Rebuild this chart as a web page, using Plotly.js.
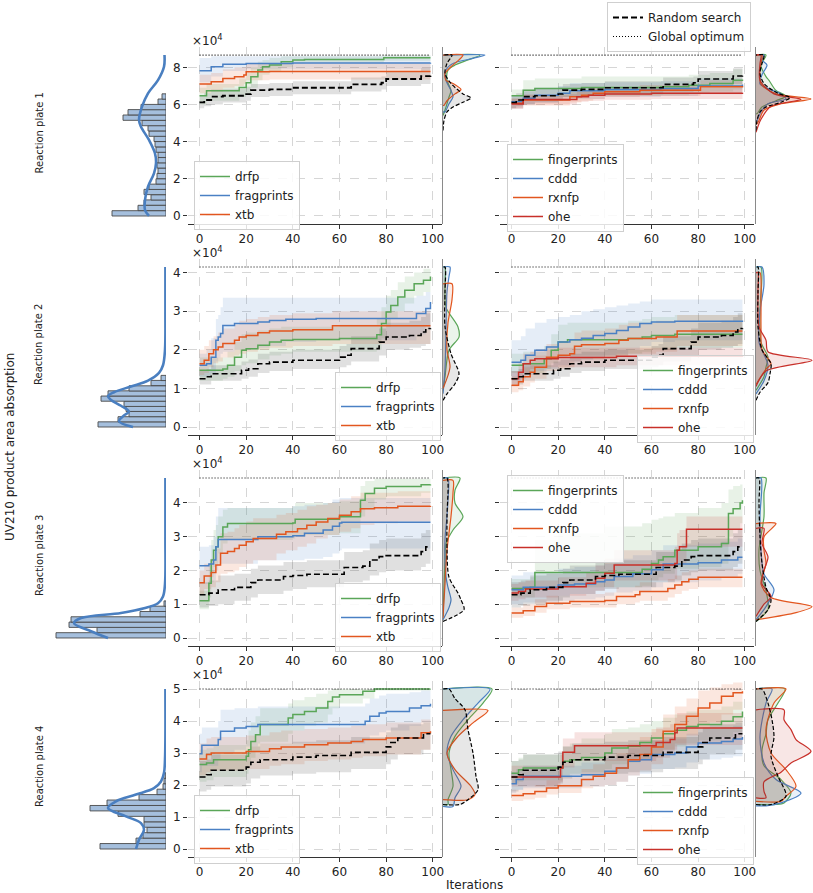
<!DOCTYPE html>
<html><head><meta charset="utf-8">
<script src="https://cdn.plot.ly/plotly-3.0.1.min.js"></script>
<style>body{margin:0;background:#fff}#chart{width:813px;height:893px}</style>
</head><body><div id="chart"></div>
<script>
// ---------------- DATA (values in units of 1e4) ----------------
const xTicks = [0, 20, 40, 60, 80, 100];
const yTicks = [[0, 2, 4, 6, 8], [0, 1, 2, 3, 4], [0, 1, 2, 3, 4], [0, 1, 2, 3, 4, 5]];
const plateLabels = ['Reaction plate 1', 'Reaction plate 2', 'Reaction plate 3', 'Reaction plate 4'];
const methodsLeft = ['drfp', 'fragprints', 'xtb'];
const methodsRight = ['fingerprints', 'cddd', 'rxnfp', 'ohe'];
const globalOpt = [8.66, 4.145, 4.74, 5.0];

// rows: [iteration, mean, lower, upper]
const p1_drfp = [[0,6.47,6.0,6.9],[3,6.74,6.2,7.1],[17,6.92,6.4,7.4],[20,7.17,6.6,7.7],[22,7.49,6.9,8.0],[25,7.85,7.3,8.3],[27,8.03,7.6,8.4],[30,8.12,7.8,8.5],[35,8.30,8.0,8.6],[40,8.39,8.2,8.6],[45,8.42,8.25,8.6],[79,8.51,8.35,8.66],[99,8.51,8.35,8.66]];
const p1_fragprints = [[0,7.81,7.2,8.5],[5,8.03,7.5,8.6],[10,8.17,7.8,8.6],[20,8.20,7.9,8.6],[40,8.23,7.9,8.6],[99,8.24,7.9,8.6]];
const p1_xtb = [[0,7.10,6.6,7.6],[5,7.22,6.7,7.7],[10,7.40,6.9,7.9],[15,7.49,7.0,8.0],[19,7.58,7.1,8.0],[20,7.76,7.3,8.2],[30,7.78,7.35,8.2],[99,7.78,7.3,8.2]];
const p1_random = [[0,6.11,5.8,6.5],[2,6.24,5.9,6.6],[5,6.42,6.0,6.8],[10,6.47,6.1,6.85],[20,6.56,6.2,6.95],[22,6.77,6.4,7.1],[30,6.81,6.45,7.15],[40,6.90,6.55,7.25],[65,7.08,6.7,7.45],[78,7.17,6.8,7.5],[80,7.37,7.0,7.8],[95,7.53,7.1,7.95],[99,7.55,7.1,8.0]];
const p1_fingerprints = [[0,6.47,6.1,6.8],[5,6.77,6.3,7.3],[10,6.86,6.4,7.4],[30,6.92,6.45,7.5],[64,6.95,6.5,7.5],[76,7.04,6.6,7.6],[85,7.13,6.7,7.7],[95,7.31,6.8,7.9],[99,7.35,6.85,8.0]];
const p1_cddd = [[0,6.15,5.8,6.5],[5,6.33,6.0,6.7],[10,6.50,6.1,6.9],[20,6.60,6.2,7.0],[25,6.74,6.3,7.15],[40,6.81,6.4,7.2],[64,6.86,6.45,7.25],[80,6.99,6.55,7.4],[99,7.08,6.6,7.5]];
const p1_rxnfp = [[0,6.06,5.8,6.35],[5,6.24,5.95,6.5],[25,6.42,6.1,6.7],[30,6.50,6.2,6.8],[35,6.60,6.3,6.9],[40,6.68,6.4,6.95],[55,6.77,6.45,7.05],[81,6.95,6.6,7.3],[99,6.99,6.65,7.35]];
const p1_ohe = [[0,6.02,5.75,6.3],[5,6.27,6.0,6.55],[28,6.42,6.15,6.7],[33,6.50,6.2,6.8],[40,6.56,6.25,6.85],[60,6.60,6.3,6.9],[99,6.63,6.3,6.95]];

const p2_drfp = [[0,1.47,1.2,1.8],[10,1.50,1.25,1.8],[12,1.60,1.3,1.95],[15,1.81,1.45,2.2],[18,1.99,1.6,2.4],[20,2.03,1.65,2.45],[25,2.12,1.75,2.5],[30,2.20,1.85,2.55],[35,2.25,1.9,2.6],[40,2.27,1.95,2.6],[60,2.29,1.95,2.65],[76,2.39,2.0,2.8],[78,2.68,2.3,3.1],[80,2.98,2.6,3.4],[82,3.15,2.8,3.55],[85,3.37,3.0,3.75],[88,3.54,3.2,3.9],[92,3.71,3.4,4.0],[96,3.80,3.5,4.1],[99,3.90,3.6,4.1]];
const p2_fragprints = [[0,1.60,1.3,1.9],[3,1.64,1.3,2.0],[5,1.81,1.4,2.3],[7,2.25,1.7,2.8],[8,2.33,1.8,2.9],[9,2.42,1.9,3.1],[10,2.63,1.95,3.35],[15,2.68,2.0,3.35],[25,2.72,2.05,3.35],[30,2.76,2.1,3.35],[37,2.79,2.2,3.35],[50,2.81,2.25,3.35],[93,2.94,2.4,3.4],[97,3.07,2.6,3.5],[99,3.24,2.8,3.6]];
const p2_xtb = [[0,1.64,1.35,2.0],[2,1.73,1.4,2.1],[4,1.90,1.55,2.25],[6,2.00,1.65,2.35],[8,2.07,1.7,2.45],[10,2.16,1.8,2.55],[15,2.25,1.85,2.65],[17,2.33,1.9,2.75],[20,2.37,1.95,2.8],[25,2.44,2.0,2.85],[30,2.49,2.05,2.9],[40,2.52,2.1,2.95],[57,2.62,2.15,3.0],[99,2.62,2.15,3.0]];
const p2_random = [[0,1.25,1.1,1.45],[3,1.30,1.1,1.5],[5,1.38,1.2,1.6],[18,1.47,1.25,1.7],[21,1.51,1.3,1.75],[25,1.64,1.4,1.9],[30,1.68,1.45,1.95],[40,1.73,1.5,2.0],[60,1.81,1.55,2.1],[63,1.86,1.6,2.15],[65,2.03,1.7,2.35],[77,2.20,1.85,2.55],[80,2.33,2.0,2.7],[90,2.37,2.05,2.75],[95,2.46,2.1,2.85],[97,2.55,2.15,2.95],[99,2.56,2.15,3.0]];
const p2_fingerprints = [[0,1.60,1.4,1.9],[5,1.64,1.4,1.95],[14,1.77,1.5,2.1],[17,1.99,1.65,2.4],[20,2.20,1.8,2.65],[24,2.26,1.85,2.7],[50,2.29,1.9,2.75],[56,2.33,1.95,2.8],[60,2.37,2.0,2.85],[70,2.40,2.05,2.9],[99,2.40,2.05,2.9]];
const p2_cddd = [[0,1.68,1.2,2.25],[4,1.73,1.25,2.35],[6,1.86,1.35,2.55],[10,1.99,1.45,2.7],[15,2.07,1.5,2.8],[20,2.20,1.6,2.85],[25,2.26,1.7,2.9],[30,2.30,1.75,3.0],[35,2.37,1.8,3.05],[40,2.42,1.85,3.1],[45,2.50,1.9,3.15],[50,2.59,2.0,3.2],[55,2.68,2.1,3.25],[60,2.72,2.2,3.3],[70,2.74,2.25,3.3],[99,2.76,2.3,3.3]];
const p2_rxnfp = [[0,1.08,0.9,1.3],[3,1.17,0.95,1.4],[5,1.30,1.05,1.55],[8,1.42,1.15,1.7],[10,1.55,1.25,1.85],[15,1.81,1.45,2.15],[20,1.86,1.5,2.2],[25,1.90,1.55,2.25],[27,2.09,1.7,2.45],[30,2.13,1.75,2.5],[40,2.16,1.8,2.55],[46,2.25,1.85,2.65],[50,2.29,1.9,2.7],[62,2.33,1.95,2.75],[71,2.49,2.1,2.9],[99,2.49,2.1,2.9]];
const p2_ohe = [[0,1.25,1.05,1.45],[3,1.42,1.2,1.65],[5,1.64,1.4,1.9],[8,1.73,1.5,1.95],[10,1.77,1.55,2.0],[20,1.80,1.55,2.05],[45,1.83,1.6,2.05],[99,1.86,1.6,2.1]];

const p3_drfp = [[0,1.10,0.85,1.4],[3,1.10,0.85,1.4],[4,1.62,1.2,2.2],[5,2.31,1.8,2.9],[6,2.60,2.1,3.2],[7,2.70,2.2,3.35],[8,3.00,2.5,3.6],[10,3.29,2.8,3.8],[12,3.39,2.9,3.85],[40,3.41,2.95,3.9],[41,3.52,3.05,4.0],[60,3.59,3.1,4.05],[69,4.08,3.6,4.5],[71,4.28,3.85,4.65],[75,4.44,4.1,4.72],[80,4.49,4.2,4.72],[95,4.54,4.3,4.72],[99,4.55,4.3,4.72]];
const p3_fragprints = [[0,2.14,1.6,2.7],[4,2.19,1.65,2.75],[6,2.31,1.7,3.0],[7,2.70,2.0,3.6],[8,2.92,2.2,3.85],[25,3.00,2.3,3.85],[40,3.03,2.3,3.9],[45,3.10,2.35,3.95],[53,3.20,2.4,4.0],[57,3.31,2.5,4.1],[60,3.41,2.6,4.15],[61,3.43,2.65,4.15],[99,3.43,2.65,4.15]];
const p3_xtb = [[0,1.64,1.3,2.0],[2,1.84,1.45,2.2],[5,1.94,1.5,2.35],[7,2.16,1.65,2.65],[9,2.51,1.9,3.1],[12,2.56,1.95,3.15],[15,2.65,2.0,3.25],[17,2.75,2.1,3.35],[20,2.85,2.2,3.45],[23,2.95,2.3,3.55],[33,3.07,2.5,3.65],[37,3.15,2.6,3.7],[42,3.24,2.7,3.8],[46,3.34,2.8,3.9],[50,3.44,2.95,3.95],[55,3.54,3.05,4.0],[60,3.64,3.15,4.1],[65,3.74,3.25,4.2],[69,3.83,3.35,4.3],[75,3.86,3.4,4.3],[85,3.90,3.45,4.35],[99,3.91,3.45,4.35]];
const p3_random = [[0,1.28,0.9,1.65],[4,1.33,0.95,1.7],[8,1.43,1.0,1.85],[15,1.50,1.1,1.9],[22,1.64,1.2,2.05],[25,1.72,1.3,2.15],[36,1.82,1.4,2.25],[40,1.85,1.45,2.25],[46,1.89,1.5,2.3],[62,2.09,1.65,2.55],[70,2.13,1.7,2.6],[73,2.31,1.85,2.8],[77,2.41,1.95,2.9],[80,2.44,2.0,2.95],[95,2.56,2.1,3.1],[97,2.70,2.2,3.2],[99,2.70,2.2,3.2]];
const p3_fingerprints = [[0,1.47,1.2,1.75],[8,1.50,1.2,1.8],[10,1.94,1.5,2.9],[20,1.94,1.5,3.1],[40,1.94,1.5,3.3],[56,2.04,1.55,3.4],[60,2.21,1.7,3.5],[63,2.31,1.8,3.55],[65,2.41,1.9,3.6],[70,2.60,2.05,3.7],[80,2.70,2.1,3.85],[90,2.80,2.2,4.0],[93,3.69,3.0,4.4],[95,3.83,3.2,4.5],[98,4.00,3.4,4.55],[99,4.08,3.5,4.6]];
const p3_cddd = [[0,1.43,1.0,1.85],[5,1.50,1.05,1.95],[20,1.57,1.1,2.05],[27,1.60,1.15,2.1],[36,1.67,1.2,2.15],[40,1.72,1.25,2.2],[44,1.82,1.35,2.35],[52,1.90,1.4,2.45],[60,2.02,1.5,2.6],[65,2.19,1.65,2.75],[80,2.23,1.7,2.8],[90,2.31,1.8,2.85],[97,2.39,1.9,2.95],[99,2.39,1.9,2.95]];
const p3_rxnfp = [[0,0.74,0.6,0.9],[5,0.81,0.65,1.0],[10,0.93,0.75,1.15],[15,1.03,0.85,1.25],[25,1.08,0.9,1.3],[40,1.11,0.9,1.35],[45,1.23,1.0,1.5],[53,1.28,1.05,1.55],[55,1.38,1.1,1.65],[67,1.47,1.2,1.75],[70,1.57,1.3,1.85],[73,1.67,1.4,1.95],[76,1.74,1.45,2.0],[80,1.80,1.5,2.05],[99,1.80,1.5,2.05]];
const p3_ohe = [[0,1.33,1.1,1.6],[3,1.38,1.15,1.65],[6,1.45,1.2,1.7],[20,1.52,1.25,1.8],[32,1.62,1.3,1.95],[36,1.77,1.4,2.15],[40,1.92,1.5,2.35],[44,2.16,1.7,2.6],[70,2.21,1.75,2.7],[71,2.60,2.1,3.1],[72,2.70,2.2,3.2],[75,3.22,2.7,3.6],[99,3.22,2.7,3.6]];

const p4_drfp = [[0,2.64,2.1,3.1],[3,2.69,2.15,3.15],[6,2.79,2.25,3.25],[20,2.90,2.35,3.4],[21,3.10,2.6,3.7],[22,3.36,2.85,3.95],[24,3.57,3.05,4.15],[26,3.89,3.35,4.4],[38,4.09,3.6,4.55],[40,4.20,3.7,4.65],[45,4.30,3.85,4.75],[50,4.41,3.95,4.85],[55,4.61,4.2,4.95],[57,4.75,4.4,5.0],[60,4.82,4.55,5.0],[70,4.93,4.7,5.0],[75,5.00,4.95,5.0],[99,5.00,4.95,5.0]];
const p4_fragprints = [[0,2.98,2.4,3.6],[1,3.24,2.6,3.8],[8,3.42,2.8,4.0],[9,3.68,3.0,4.35],[15,3.78,3.1,4.4],[20,3.83,3.2,4.4],[25,3.89,3.3,4.45],[71,3.99,3.4,4.55],[73,4.15,3.55,4.7],[77,4.25,3.65,4.8],[80,4.30,3.7,4.85],[90,4.41,3.85,4.9],[95,4.48,3.95,4.95],[99,4.54,4.0,4.95]];
const p4_xtb = [[0,2.81,2.3,3.3],[3,2.95,2.4,3.45],[5,3.00,2.45,3.5],[20,3.05,2.5,3.55],[30,3.13,2.6,3.65],[35,3.19,2.65,3.7],[45,3.26,2.75,3.75],[55,3.31,2.8,3.8],[65,3.36,2.85,3.85],[70,3.42,2.9,3.9],[80,3.47,2.95,3.95],[95,3.63,3.1,4.05],[99,3.68,3.15,4.05]];
const p4_random = [[0,2.25,1.8,2.75],[3,2.32,1.85,2.8],[5,2.46,1.95,2.95],[20,2.56,2.05,3.05],[22,2.71,2.2,3.2],[26,2.79,2.3,3.3],[40,2.87,2.35,3.35],[50,2.92,2.4,3.4],[65,3.02,2.5,3.5],[80,3.19,2.65,3.65],[82,3.33,2.8,3.8],[85,3.47,2.95,3.9],[96,3.60,3.1,3.95],[99,3.60,3.1,3.95]];
const p4_fingerprints = [[0,2.37,2.05,2.75],[3,2.48,2.1,2.85],[5,2.53,2.15,2.95],[22,2.74,2.3,3.2],[25,2.79,2.35,3.3],[30,2.86,2.4,3.45],[40,3.00,2.5,3.6],[43,3.16,2.65,3.75],[50,3.21,2.7,3.8],[55,3.33,2.8,3.9],[60,3.47,2.95,4.0],[65,3.60,3.1,4.1],[70,3.71,3.2,4.2],[75,3.83,3.3,4.3],[80,3.89,3.4,4.35],[90,3.99,3.5,4.45],[95,4.13,3.65,4.6],[99,4.30,3.8,4.75]];
const p4_cddd = [[0,2.04,1.75,2.4],[2,2.17,1.85,2.5],[5,2.27,1.9,2.6],[30,2.32,1.95,2.7],[40,2.43,2.0,2.85],[45,2.53,2.1,2.95],[50,2.74,2.3,3.15],[55,2.79,2.35,3.2],[60,2.95,2.5,3.4],[70,3.00,2.55,3.45],[75,3.19,2.7,3.6],[80,3.31,2.8,3.75],[90,3.36,2.85,3.8],[95,3.44,2.9,3.85],[99,3.50,2.95,3.9]];
const p4_rxnfp = [[0,1.67,1.5,1.85],[5,1.73,1.55,1.95],[10,1.80,1.6,2.0],[15,1.91,1.7,2.15],[20,1.98,1.75,2.25],[30,2.17,1.9,2.5],[35,2.27,1.95,2.65],[40,2.37,2.0,2.8],[45,2.53,2.1,3.0],[50,2.79,2.3,3.3],[55,2.95,2.45,3.5],[60,3.19,2.65,3.75],[65,3.68,3.1,4.2],[70,3.89,3.3,4.45],[75,4.15,3.55,4.7],[80,4.41,3.8,4.95],[85,4.56,3.95,5.05],[90,4.77,4.2,5.15],[95,4.88,4.35,5.2],[99,4.93,4.4,5.2]];
const p4_ohe = [[0,2.25,1.95,2.6],[21,2.53,2.1,2.95],[22,3.02,2.55,3.45],[27,3.23,2.75,3.65],[62,3.33,2.85,3.8],[68,3.42,2.95,3.9],[70,3.63,3.1,4.1],[71,3.78,3.25,4.25],[99,3.78,3.3,4.25]];

// marginal densities: [value, density]
const k1L_drfp = [[5.4,0],[5.86,3],[6.4,6],[6.75,8],[7.3,4],[7.85,5],[8.12,12],[8.4,25],[8.66,37]];
const k1L_fragprints = [[5.6,2],[6.04,6],[6.4,10],[6.75,8],[7.3,3],[7.85,3],[8.21,10],[8.48,30],[8.66,42]];
const k1L_xtb = [[5.95,1],[6.2,4],[6.57,12],[6.8,18],[7.13,10],[7.3,3],[7.67,2],[8.03,8],[8.4,16],[8.66,20]];
const k1L_random = [[4.6,0],[5.14,1],[5.6,4],[5.86,10],[6.12,20],[6.35,28],[6.57,20],[7.13,8],[7.67,2],[8.21,4],[8.66,9]];
const k1R_fingerprints = [[5.5,1],[5.86,6],[6.2,20],[6.45,30],[6.75,20],[7.3,13],[7.5,10],[8.1,5],[8.66,10]];
const k1R_cddd = [[5.14,1],[5.6,5],[6.04,12],[6.3,30],[6.57,25],[7.1,4],[7.6,6],[8.12,11],[8.4,6],[8.66,8]];
const k1R_rxnfp = [[4.96,1],[5.14,3],[5.7,8],[6.04,25],[6.3,55],[6.57,20],[7.1,5],[7.9,4],[8.66,6]];
const k1R_ohe = [[4.5,0],[5.2,5],[5.9,15],[6.28,45],[6.57,18],[7.3,4],[8.2,4],[8.66,5]];
const k1R_random = [[4.6,0],[5.14,1],[5.6,4],[5.86,10],[6.12,25],[6.37,34],[6.6,22],[7.13,8],[7.67,4],[8.21,6],[8.66,8]];

const k2L_drfp = [[0.95,0],[1.3,2],[1.99,6],[2.33,16],[2.59,15],[3.1,3],[3.6,2],[4.145,2]];
const k2L_fragprints = [[0.86,0],[1.5,2],[2.5,3],[3.5,4],[3.9,6],[4.145,7]];
const k2L_xtb = [[1.0,0],[1.55,7],[2.0,4],[2.7,5],[3.3,9],[3.71,9]];
const k2L_random = [[0.69,0],[0.86,4],[1.12,12],[1.38,16],[1.9,8],[2.6,2],[3.5,2],[4.145,2]];
const k2R_fingerprints = [[0.95,0],[1.3,8],[1.55,10],[1.81,12],[2.2,5],[3.0,4],[4.145,5]];
const k2R_cddd = [[0.86,0],[1.2,8],[1.6,12],[2.2,3],[3.0,4],[3.7,8],[4.145,6]];
const k2R_rxnfp = [[1.1,0],[1.5,10],[1.64,15],[2.0,6],[2.6,5],[3.3,5],[4.0,4]];
const k2R_ohe = [[1.05,0],[1.45,10],[1.73,56],[1.95,12],[2.25,10],[2.6,3],[3.5,2],[4.0,2]];
const k2R_random = [[0.69,0],[0.9,4],[1.15,12],[1.38,14],[1.64,15],[2.0,6],[2.6,2],[3.5,2],[4.145,2]];

const k3L_drfp = [[0.64,0],[1.5,1],[2.3,2],[2.8,3],[3.2,10],[3.59,20],[4.0,12],[4.38,12],[4.74,17]];
const k3L_fragprints = [[0.54,0],[0.9,6],[1.13,8],[1.5,5],[1.82,3],[2.9,2],[3.6,4],[4.08,5],[4.74,5]];
const k3L_xtb = [[0.59,0],[1.6,2],[2.6,4],[3.6,8],[4.3,10],[4.67,10]];
const k3L_random = [[0.49,0],[0.84,21],[1.13,18],[1.33,15],[1.8,6],[2.6,4],[3.6,4],[4.74,4]];
const k3R_fingerprints = [[0.49,0],[0.84,12],[1.4,10],[2.0,4],[2.6,3],[3.6,8],[4.3,8],[4.74,10]];
const k3R_cddd = [[0.54,0],[0.93,10],[1.43,18],[1.9,8],[2.6,5],[3.6,4],[4.74,5]];
const k3R_rxnfp = [[0.54,0],[0.75,40],[0.93,56],[1.2,15],[1.6,5],[2.21,10],[2.6,8],[3.0,8],[3.39,20]];
const k3R_ohe = [[0.64,0],[1.0,8],[1.23,15],[1.6,6],[2.0,8],[2.4,12],[2.8,6],[3.25,8]];
const k3R_random = [[0.49,0],[0.84,12],[1.13,15],[1.5,10],[2.21,6],[3.0,4],[4.0,3],[4.74,3]];

const k4L_drfp = [[1.39,5],[1.54,5],[1.96,10],[2.48,8],[3.0,6],[3.52,12],[4.04,25],[4.56,40],[5.0,49]];
const k4L_fragprints = [[1.33,10],[1.6,12],[1.96,18],[2.48,10],[3.0,4],[3.52,8],[4.04,20],[4.56,35],[5.0,47]];
const k4L_xtb = [[1.54,25],[1.7,32],[1.96,28],[2.48,12],[3.0,4],[3.52,15],[3.94,30],[4.33,45]];
const k4L_random = [[1.39,17],[1.54,25],[1.85,35],[2.27,33],[3.0,30],[3.73,25],[4.35,22],[4.7,12],[5.0,6]];
const k4R_fingerprints = [[1.39,20],[1.44,28],[1.75,35],[2.17,25],[2.6,8],[3.1,6],[3.6,10],[4.04,12],[4.56,22],[5.0,29]];
const k4R_cddd = [[1.35,10],[1.44,25],[1.75,45],[2.17,20],[2.69,8],[3.5,4],[4.56,10],[5.0,16]];
const k4R_rxnfp = [[1.49,25],[1.65,30],[1.96,40],[2.48,30],[3.0,15],[3.73,10],[4.56,18],[5.0,30]];
const k4R_ohe = [[1.6,10],[1.8,8],[2.1,8],[2.4,25],[2.69,35],[3.05,55],[3.42,40],[3.73,35],[4.04,28],[4.35,28]];
const k4R_random = [[1.39,15],[1.65,30],[2.27,22],[2.9,15],[3.5,18],[4.04,16],[4.56,12],[5.0,6]];

// histograms of all plate values
const binWidth = [0.286, 0.134, 0.157, 0.17];
const h1_centers = [0.14,0.43,0.72,1.00,1.29,1.57,1.86,2.15,2.43,2.72,3.00,3.29,3.57,3.86,4.15,4.43,4.72,5.00,5.29,5.58,5.86,6.15,6.43];
const h1_counts = [54,28,22,15,22,17,10,9,8,9,8,8,10,11,12,17,18,24,43,38,25,8,4];
const h2_centers = [0.067,0.2,0.335,0.47,0.6,0.735,0.87,1.0,1.14,1.27];
const h2_counts = [68,48,37,40,42,65,58,37,15,5];
const h3_centers = [0.079,0.236,0.393,0.55,0.707,0.864,1.02];
const h3_counts = [110,69,97,95,26,16,2];
const h4_centers = [0.085,0.255,0.425,0.595,0.765,0.935,1.105,1.275,1.445,1.615,1.785,1.955,2.125,2.295];
const h4_counts = [66,30,23,19,22,22,48,76,59,27,9,3,2,1];
const h1_kde = [[0,17],[0.32,21],[0.86,21],[1.58,18],[2.29,12],[2.83,10],[3.37,11],[4.09,17],[4.8,25],[5.16,27],[5.88,24],[6.6,18],[7.31,8],[8.03,2],[8.66,1.5]];
const h2_kde = [[0,33],[0.15,47],[0.3,42],[0.4,37],[0.55,45],[0.7,55],[0.8,58],[0.9,52],[1.05,35],[1.2,18],[1.4,7],[1.6,3],[2.0,1],[3.0,0.6],[4.145,0.6]];
const h3_kde = [[0,58],[0.2,75],[0.44,92],[0.59,85],[0.74,45],[0.88,22],[1.03,8],[1.23,3],[1.6,1],[3.0,0.6],[4.74,0.6]];
const h4_kde = [[0,30],[0.29,27],[0.6,22],[0.81,25],[1.02,40],[1.28,58],[1.49,50],[1.7,30],[1.9,12],[2.11,5],[2.38,2],[2.8,1],[3.5,0.6],[5.0,0.6]];

// ---------------- assembling ----------------
const rowsData = [
  {series:{drfp:p1_drfp,fragprints:p1_fragprints,xtb:p1_xtb,fingerprints:p1_fingerprints,cddd:p1_cddd,rxnfp:p1_rxnfp,ohe:p1_ohe,random:p1_random},
   kL:{drfp:k1L_drfp,fragprints:k1L_fragprints,xtb:k1L_xtb,random:k1L_random},
   kR:{fingerprints:k1R_fingerprints,cddd:k1R_cddd,rxnfp:k1R_rxnfp,ohe:k1R_ohe,random:k1R_random},
   hc:h1_centers,hn:h1_counts,hk:h1_kde},
  {series:{drfp:p2_drfp,fragprints:p2_fragprints,xtb:p2_xtb,fingerprints:p2_fingerprints,cddd:p2_cddd,rxnfp:p2_rxnfp,ohe:p2_ohe,random:p2_random},
   kL:{drfp:k2L_drfp,fragprints:k2L_fragprints,xtb:k2L_xtb,random:k2L_random},
   kR:{fingerprints:k2R_fingerprints,cddd:k2R_cddd,rxnfp:k2R_rxnfp,ohe:k2R_ohe,random:k2R_random},
   hc:h2_centers,hn:h2_counts,hk:h2_kde},
  {series:{drfp:p3_drfp,fragprints:p3_fragprints,xtb:p3_xtb,fingerprints:p3_fingerprints,cddd:p3_cddd,rxnfp:p3_rxnfp,ohe:p3_ohe,random:p3_random},
   kL:{drfp:k3L_drfp,fragprints:k3L_fragprints,xtb:k3L_xtb,random:k3L_random},
   kR:{fingerprints:k3R_fingerprints,cddd:k3R_cddd,rxnfp:k3R_rxnfp,ohe:k3R_ohe,random:k3R_random},
   hc:h3_centers,hn:h3_counts,hk:h3_kde},
  {series:{drfp:p4_drfp,fragprints:p4_fragprints,xtb:p4_xtb,fingerprints:p4_fingerprints,cddd:p4_cddd,rxnfp:p4_rxnfp,ohe:p4_ohe,random:p4_random},
   kL:{drfp:k4L_drfp,fragprints:k4L_fragprints,xtb:k4L_xtb,random:k4L_random},
   kR:{fingerprints:k4R_fingerprints,cddd:k4R_cddd,rxnfp:k4R_rxnfp,ohe:k4R_ohe,random:k4R_random},
   hc:h4_centers,hn:h4_counts,hk:h4_kde}
];

const W = 813, H = 893;
const PX = v => v / W, PY = v => 1 - v / H;
const COL = {drfp:'#5aa658', fragprints:'#4a80c4', xtb:'#e2561f', fingerprints:'#5aa658', cddd:'#4a80c4', rxnfp:'#e2561f', ohe:'#c8302a', random:'#000000'};
function rgba(hex, a){const n=parseInt(hex.slice(1),16);return `rgba(${(n>>16)&255},${(n>>8)&255},${n&255},${a})`;}
const ROWPX = [[47,224],[259,435],[470,646],[681,857]];
const COLPX = {hist:[50,166], lmain:[188,442], lmarg:[443,500], rmain:[500,754], rmarg:[756,813]};
const LEGPX = [[[194,161],[507,144]],[[335,372],[637,355]],[[335,583],[507,475]],[[194,795],[637,777]]];
const FONT = 'DejaVu Sans, Arial, sans-serif';
const GRID = '#d6d6d6';

const traces = [];
const layout = {width:W, height:H, margin:{l:0,r:0,t:0,b:0}, paper_bgcolor:'#fff', plot_bgcolor:'rgba(0,0,0,0)',
  font:{family:FONT, size:12, color:'#222'}, hovermode:false, showlegend:true, annotations:[]};

const legStyle = (x, y) => ({x:PX(x), y:PY(y), xanchor:'left', yanchor:'top', bgcolor:'rgba(255,255,255,0.85)',
  bordercolor:'#cfcfcf', borderwidth:1, font:{family:FONT,size:12,color:'#222'}, tracegroupgap:0, itemwidth:30,
  traceorder:'normal'});
layout.legend = legStyle(607, 2);

const sfx = k => (k === 1 ? '' : String(k));

rowsData.forEach((rd, r) => {
  const [top, bot] = ROWPX[r];
  const ydom = [PY(bot), PY(top)];
  const g = globalOpt[r];
  const yr = [-0.05 * g, 1.05 * g];
  const k0 = r * 5;
  const ids = {hist:k0+1, lmain:k0+2, lmarg:k0+3, rmain:k0+4, rmarg:k0+5};
  Object.entries(ids).forEach(([name, k]) => {
    const xd = [PX(COLPX[name][0]), PX(COLPX[name][1])];
    const xa = {domain:xd, anchor:'y'+sfx(k), fixedrange:true};
    const ya = {domain:ydom, anchor:'x'+sfx(k), range:yr, fixedrange:true, zeroline:false};
    if (name === 'lmain' || name === 'rmain') {
      const lo = name === 'lmain' ? -4.95 : -4.95;
      Object.assign(xa, {range:[lo,103.95], tickvals:xTicks, ticks:'outside', ticklen:4, tickwidth:1, tickcolor:'#333',
        showline:true, linecolor:'#333', linewidth:1, showgrid:true, gridcolor:GRID, griddash:'dash', gridwidth:1,
        zeroline:false, tickfont:{size:12,color:'#222'}});
      Object.assign(ya, {tickvals:yTicks[r], ticks:'outside', ticklen:4, tickwidth:1, tickcolor:'#333', showline:false,
        showgrid:true, gridcolor:GRID, griddash:'dash', gridwidth:1, tickfont:{size:12,color:'#222'},
        showticklabels: name === 'lmain'});
    } else if (name === 'hist') {
      Object.assign(xa, {range:[116,0], visible:false});
      Object.assign(ya, {visible:false});
    } else {
      Object.assign(xa, {range:[0,57], visible:false});
      Object.assign(ya, {showline:true, linecolor:'#8a8a8a', linewidth:1, ticks:'', showticklabels:false, showgrid:false});
    }
    layout['xaxis'+sfx(k)] = xa;
    layout['yaxis'+sfx(k)] = ya;
  });

  // histogram
  const hx = 'x'+sfx(ids.hist), hy = 'y'+sfx(ids.hist);
  traces.push({type:'bar', orientation:'h', x:rd.hn, y:rd.hc, width:binWidth[r], xaxis:hx, yaxis:hy,
    marker:{color:'#a5bfdd', line:{color:'#4a4a4a', width:0.9}}, showlegend:false, hoverinfo:'skip'});
  traces.push({type:'scatter', mode:'lines', x:rd.hk.map(p=>p[1]), y:rd.hk.map(p=>p[0]), xaxis:hx, yaxis:hy,
    line:{color:'#4a7fc0', width:2.6, shape:'spline', smoothing:1}, showlegend:false, hoverinfo:'skip'});

  const panels = [{names:methodsLeft, main:ids.lmain, marg:ids.lmarg, kde:rd.kL, leg:'legend'+(2+2*r), lp:LEGPX[r][0]},
                  {names:methodsRight, main:ids.rmain, marg:ids.rmarg, kde:rd.kR, leg:'legend'+(3+2*r), lp:LEGPX[r][1]}];
  panels.forEach((pn, pi) => {
    layout[pn.leg] = legStyle(pn.lp[0], pn.lp[1]);
    const xa = 'x'+sfx(pn.main), ya = 'y'+sfx(pn.main);
    const all = pn.names.concat(['random']);
    // bands
    all.forEach(m => {
      const d = rd.series[m];
      const it = d.map(p=>p[0]);
      traces.push({type:'scatter', mode:'lines', x:it, y:d.map(p=>p[2]), xaxis:xa, yaxis:ya, legend:pn.leg,
        line:{width:0, shape:'hv', color:rgba(COL[m],0)}, showlegend:false, hoverinfo:'skip'});
      traces.push({type:'scatter', mode:'lines', x:it, y:d.map(p=>p[3]), xaxis:xa, yaxis:ya, fill:'tonexty', legend:pn.leg,
        fillcolor: m==='random' ? 'rgba(60,60,60,0.16)' : rgba(COL[m],0.14),
        line:{width:0, shape:'hv', color:rgba(COL[m],0)}, showlegend:false, hoverinfo:'skip'});
    });
    // lines
    all.forEach(m => {
      const d = rd.series[m];
      const isR = m === 'random';
      const t = {type:'scatter', mode:'lines', x:d.map(p=>p[0]), y:d.map(p=>p[1]), xaxis:xa, yaxis:ya,
        line:{color:COL[m], width: isR ? 1.6 : 1.5, shape:'hv', dash: isR ? '6px,3px' : 'solid'}, hoverinfo:'skip'};
      if (isR) {
        t.name = 'Random search';
        t.showlegend = (r === 0 && pi === 0);
        t.legend = t.showlegend ? 'legend' : pn.leg;
        if (t.showlegend) t.line.width = 1.8;
      } else {
        t.name = m; t.legend = pn.leg; t.showlegend = true;
      }
      traces.push(t);
    });
    // global optimum
    const itAll = rd.series.random.map(p=>p[0]);
    const showOpt = (r===0 && pi===0);
    traces.push({type:'scatter', mode:'lines', x:[itAll[0], itAll[itAll.length-1]], y:[g, g], xaxis:xa, yaxis:ya,
      line:{color:'#000', width:1.2, dash:'1px,2px'}, name:'Global optimum', legend: showOpt ? 'legend' : pn.leg,
      showlegend:showOpt, hoverinfo:'skip'});

    // marginal KDEs
    const mx = 'x'+sfx(pn.marg), my = 'y'+sfx(pn.marg);
    all.forEach(m => {
      const kd = pn.kde[m];
      const xs = [], ys = [];
      if (kd[0][1] > 0) { xs.push(0); ys.push(kd[0][0]); }
      kd.forEach(p => { xs.push(p[1]); ys.push(p[0]); });
      if (kd[kd.length-1][1] > 0) { xs.push(0); ys.push(kd[kd.length-1][0]); }
      const isR = m === 'random';
      traces.push({type:'scatter', mode:'lines', x:xs, y:ys, xaxis:mx, yaxis:my, fill:'toself', legend:pn.leg,
        fillcolor: isR ? 'rgba(60,60,60,0.12)' : rgba(COL[m],0.12),
        line:{color:COL[m], width:1.2, shape:'spline', smoothing:0.8, dash: isR ? '4px,2px' : 'solid'},
        showlegend:false, hoverinfo:'skip'});
    });
  });

  layout.annotations.push({xref:'paper', yref:'paper', x:PX(190), y:PY(top-7), xanchor:'left', yanchor:'middle',
    text:'×10<sup>4</sup>', showarrow:false, font:{family:FONT,size:12,color:'#222'}});
  layout.annotations.push({xref:'paper', yref:'paper', x:PX(39), y:PY((top+bot)/2 - 2), xanchor:'center', yanchor:'middle',
    text:plateLabels[r], textangle:-90, showarrow:false, font:{family:FONT,size:10,color:'#222'}});
});

layout.annotations.push({xref:'paper', yref:'paper', x:PX(10), y:PY(447), xanchor:'center', yanchor:'middle',
  text:'UV210 product area absorption', textangle:-90, showarrow:false, font:{family:FONT,size:12,color:'#222'}});
layout.annotations.push({xref:'paper', yref:'paper', x:PX(474), y:PY(885), xanchor:'center', yanchor:'middle',
  text:'Iterations', showarrow:false, font:{family:FONT,size:12,color:'#222'}});

Plotly.newPlot('chart', traces, layout, {staticPlot:true, displayModeBar:false});
</script>
</body></html>
